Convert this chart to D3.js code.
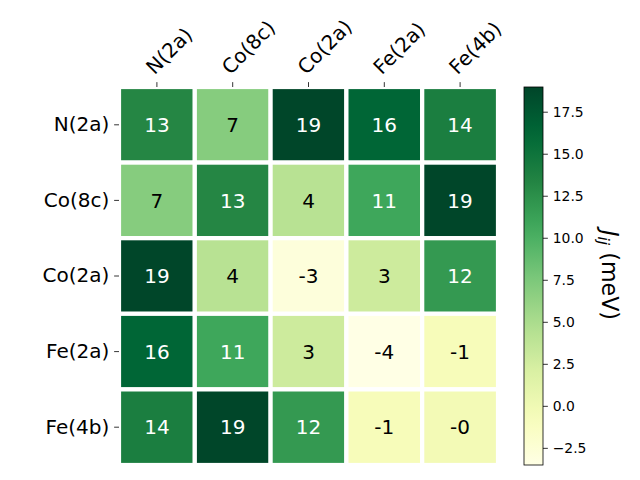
<!DOCTYPE html>
<html>
<head>
<meta charset="utf-8">
<script src="https://d3js.org/d3.v7.min.js"></script>
<style>
body { margin: 0; background: #fff; }
text { font-family: "DejaVu Sans", sans-serif; }
</style>
</head>
<body>
<div id="chart"></div>
<script>
var width = 640;
var height = 480;

var sites = ["N(2a)", "Co(8c)", "Co(2a)", "Fe(2a)", "Fe(4b)"];
// J_ij values in meV, row by row
var rowN2a  = [13.2, 7.0, 18.9, 16.3, 14.0];
var rowCo8c = [7.0, 13.2, 4.2, 10.8, 18.9];
var rowCo2a = [18.9, 4.2, -2.9, 2.9, 11.8];
var rowFe2a = [16.3, 10.8, 2.9, -3.52, -0.8];
var rowFe4b = [14.0, 18.9, 11.8, -0.8, -0.3];
var matrix = [rowN2a, rowCo8c, rowCo2a, rowFe2a, rowFe4b];
var cbarTicks = [-2.5, 0, 2.5, 5, 7.5, 10, 12.5, 15, 17.5];
var vmin = -3.52, vmax = 18.97;

var ylgn = ["#ffffe5","#f7fcb9","#d9f0a3","#addd8e","#78c679","#41ab5d","#238443","#006837","#004529"];
var color = d3.scaleLinear()
  .domain(d3.range(9).map(function (i) { return vmin + (vmax - vmin) * i / 8; }))
  .range(ylgn)
  .interpolate(d3.interpolateRgb)
  .clamp(true);

var svg = d3.select("#chart").append("svg")
  .attr("width", width)
  .attr("height", height);

var axL = 119, axR = 498, axT = 87, axB = 465;
var big = 20, small = 13.9, tick = 4.86;

var x = d3.scaleBand().domain(sites).range([axL, axR]);
var y = d3.scaleBand().domain(sites).range([axT, axB]);

var defs = svg.append("defs");
defs.append("clipPath").attr("id", "ax")
  .append("rect").attr("x", axL).attr("y", axT)
  .attr("width", axR - axL).attr("height", axB - axT);

var cells = [];
matrix.forEach(function (row, i) {
  row.forEach(function (v, j) { cells.push({r: sites[i], c: sites[j], v: v}); });
});

var g = svg.append("g").attr("clip-path", "url(#ax)");
g.selectAll("rect").data(cells).enter().append("rect")
  .attr("x", function (d) { return x(d.c); })
  .attr("y", function (d) { return y(d.r); })
  .attr("width", x.bandwidth())
  .attr("height", y.bandwidth())
  .attr("fill", function (d) { return color(d.v); })
  .attr("stroke", "#fff")
  .attr("stroke-width", 4.2);

var thresh = (vmin + vmax) / 2;
svg.append("g").selectAll("text").data(cells).enter().append("text")
  .attr("x", function (d) { return x(d.c) + x.bandwidth() / 2; })
  .attr("y", function (d) { return y(d.r) + y.bandwidth() / 2; })
  .attr("dy", "0.36em")
  .attr("text-anchor", "middle")
  .attr("font-size", big)
  .attr("fill", function (d) { return d.v > thresh ? "#fff" : "#000"; })
  .text(function (d) {
    var r = Math.round(d.v);
    return (d.v < 0 && r === 0) ? "-0" : String(r);
  });

// top axis
var xAxis = svg.append("g").attr("transform", "translate(0," + axT + ")")
  .call(d3.axisTop(x).tickSize(tick).tickPadding(0).tickFormat(""));
xAxis.select(".domain").remove();
xAxis.selectAll("line").attr("stroke", "#000").attr("stroke-width", 0.8);
svg.append("g").selectAll("text").data(sites).enter().append("text")
  .attr("transform", function (d) {
    return "translate(" + (x(d) + x.bandwidth() / 2 - 2.5) + "," + (axT - 11.6) + ") rotate(-45)";
  })
  .attr("font-size", big)
  .text(function (d) { return d; });

// left axis
var yAxis = svg.append("g").attr("transform", "translate(" + axL + ",0)")
  .call(d3.axisLeft(y).tickSize(tick).tickPadding(tick));
yAxis.select(".domain").remove();
yAxis.selectAll("line").attr("stroke", "#000").attr("stroke-width", 0.8);
yAxis.selectAll("text").attr("font-size", big).attr("fill", "#000")
  .style("font-family", "DejaVu Sans");

// colorbar
var cbL = 524, cbW = 19;
var cy = d3.scaleLinear().domain([vmin, vmax]).range([axB, axT]);
var grad = defs.append("linearGradient").attr("id", "cbg")
  .attr("x1", 0).attr("y1", 1).attr("x2", 0).attr("y2", 0);
d3.range(0, 1.0001, 0.05).forEach(function (t) {
  grad.append("stop").attr("offset", t).attr("stop-color", color(vmin + (vmax - vmin) * t));
});
svg.append("rect").attr("x", cbL).attr("y", axT).attr("width", cbW).attr("height", axB - axT)
  .attr("fill", "url(#cbg)").attr("stroke", "#000").attr("stroke-width", 0.8);

var cAxis = svg.append("g").attr("transform", "translate(" + (cbL + cbW) + ",0)")
  .call(d3.axisRight(cy).tickValues(cbarTicks).tickSize(tick).tickPadding(tick)
    .tickFormat(function (d) { return d3.format(".1f")(d).replace("-", "\u2212"); }));
cAxis.select(".domain").remove();
cAxis.selectAll("line").attr("stroke", "#000").attr("stroke-width", 0.8);
cAxis.selectAll("text").attr("font-size", small).attr("fill", "#000")
  .style("font-family", "DejaVu Sans");

var lab = svg.append("text")
  .attr("transform", "translate(602,275) rotate(90)")
  .attr("text-anchor", "middle")
  .attr("font-size", 22.2);
lab.append("tspan").attr("font-style", "italic").text("J");
lab.append("tspan").attr("font-style", "italic").attr("font-size", 15.5).attr("dy", 4.5).text("ij");
lab.append("tspan").attr("dy", -4.5).text(" (meV)");
</script>
</body>
</html>
